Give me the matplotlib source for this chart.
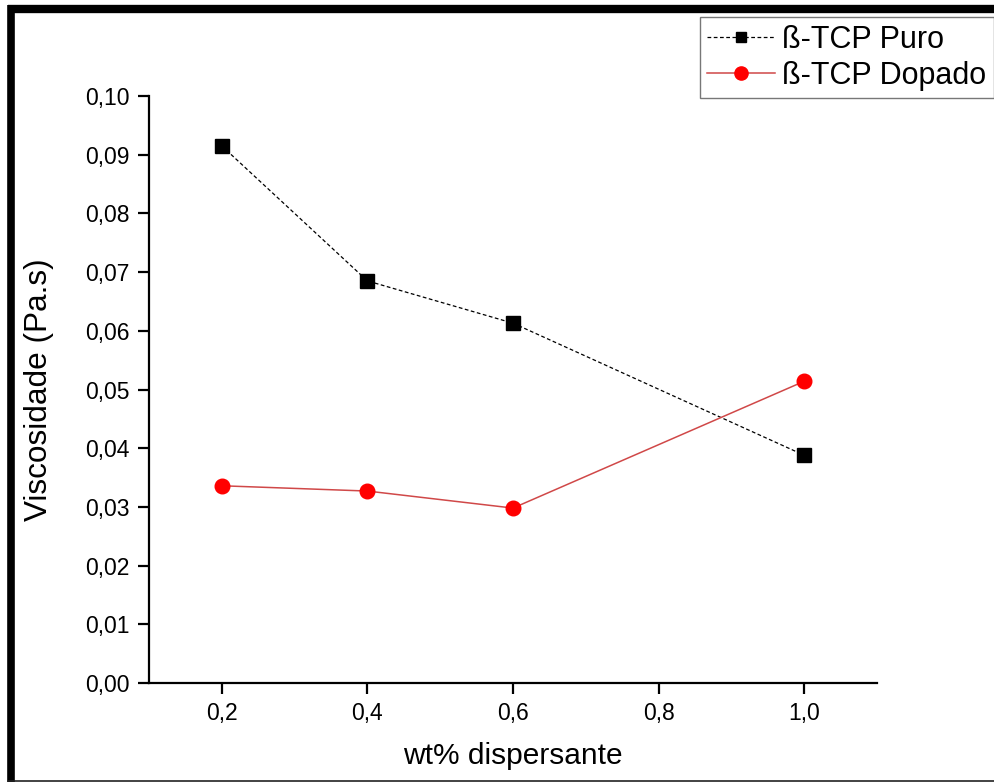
import matplotlib
matplotlib.use("Agg")
import matplotlib.pyplot as plt
from matplotlib.ticker import FuncFormatter, MultipleLocator

plt.rcParams['font.family'] = ['Liberation Sans', 'DejaVu Sans']

x_vals = [0.2, 0.4, 0.6, 1.0]
puro = [0.0915, 0.0685, 0.0613, 0.0388]
dopado = [0.0336, 0.0327, 0.0298, 0.0514]
label_puro = "ß-TCP Puro"
label_dopado = "ß-TCP Dopado"
xlabel = "wt% dispersante"
ylabel = "Viscosidade (Pa.s)"

fig = plt.figure(figsize=(9.95, 7.82), dpi=100)
ax = fig.add_axes([149/995, 1-683/782, (877-149)/995, (683-96)/782])

ax.plot(x_vals, puro, color='black', linestyle=(0, (3, 2)), linewidth=0.9,
        marker='s', markersize=9.5, markerfacecolor='black', markeredgecolor='black',
        label=label_puro)
ax.plot(x_vals, dopado, color='#d04848', linestyle='-', linewidth=1.1,
        marker='o', markersize=10.5, markerfacecolor='#ff0000', markeredgecolor='#ff0000',
        label=label_dopado)

ax.set_xlim(0.1, 1.1)
ax.set_ylim(0, 0.10)
ax.xaxis.set_major_locator(MultipleLocator(0.2))
ax.yaxis.set_major_locator(MultipleLocator(0.01))
ax.xaxis.set_major_formatter(FuncFormatter(lambda v, p: f"{v:.1f}".replace('.', ',')))
ax.yaxis.set_major_formatter(FuncFormatter(lambda v, p: f"{v:.2f}".replace('.', ',')))

for s in ['top', 'right']:
    ax.spines[s].set_visible(False)
for s in ['left', 'bottom']:
    ax.spines[s].set_linewidth(1.6)
ax.tick_params(direction='out', length=8, width=1.6, labelsize=16.5, pad=6)

ax.set_xlabel(xlabel, fontsize=21.5, labelpad=12)
ax.set_ylabel(ylabel, fontsize=22.7, labelpad=22)

leg = fig.legend(loc='upper right', bbox_to_anchor=(994/995, 1-17/782),
                 fontsize=22, frameon=True, fancybox=False, edgecolor='#555555',
                 handlelength=2.2, handletextpad=0.25, borderpad=0.25, labelspacing=0.2,
                 borderaxespad=0, handleheight=0.7)
leg.get_frame().set_linewidth(1.0)
leg.legend_handles[0].set_markersize(7.5)
leg.legend_handles[1].set_markersize(9.5)

# outer frame
fig.add_artist(plt.Line2D([11.5/995, 11.5/995], [0, 1-5/782], transform=fig.transFigure,
                          color='black', linewidth=5.5, solid_capstyle='butt'))
fig.add_artist(plt.Line2D([8/995, 1], [1-9/782, 1-9/782], transform=fig.transFigure,
                          color='black', linewidth=6, solid_capstyle='butt'))
fig.add_artist(plt.Line2D([8/995, 1], [1-780.5/782, 1-780.5/782], transform=fig.transFigure,
                          color='#222222', linewidth=1.2, solid_capstyle='butt'))

fig.savefig("out.png", dpi=100)
